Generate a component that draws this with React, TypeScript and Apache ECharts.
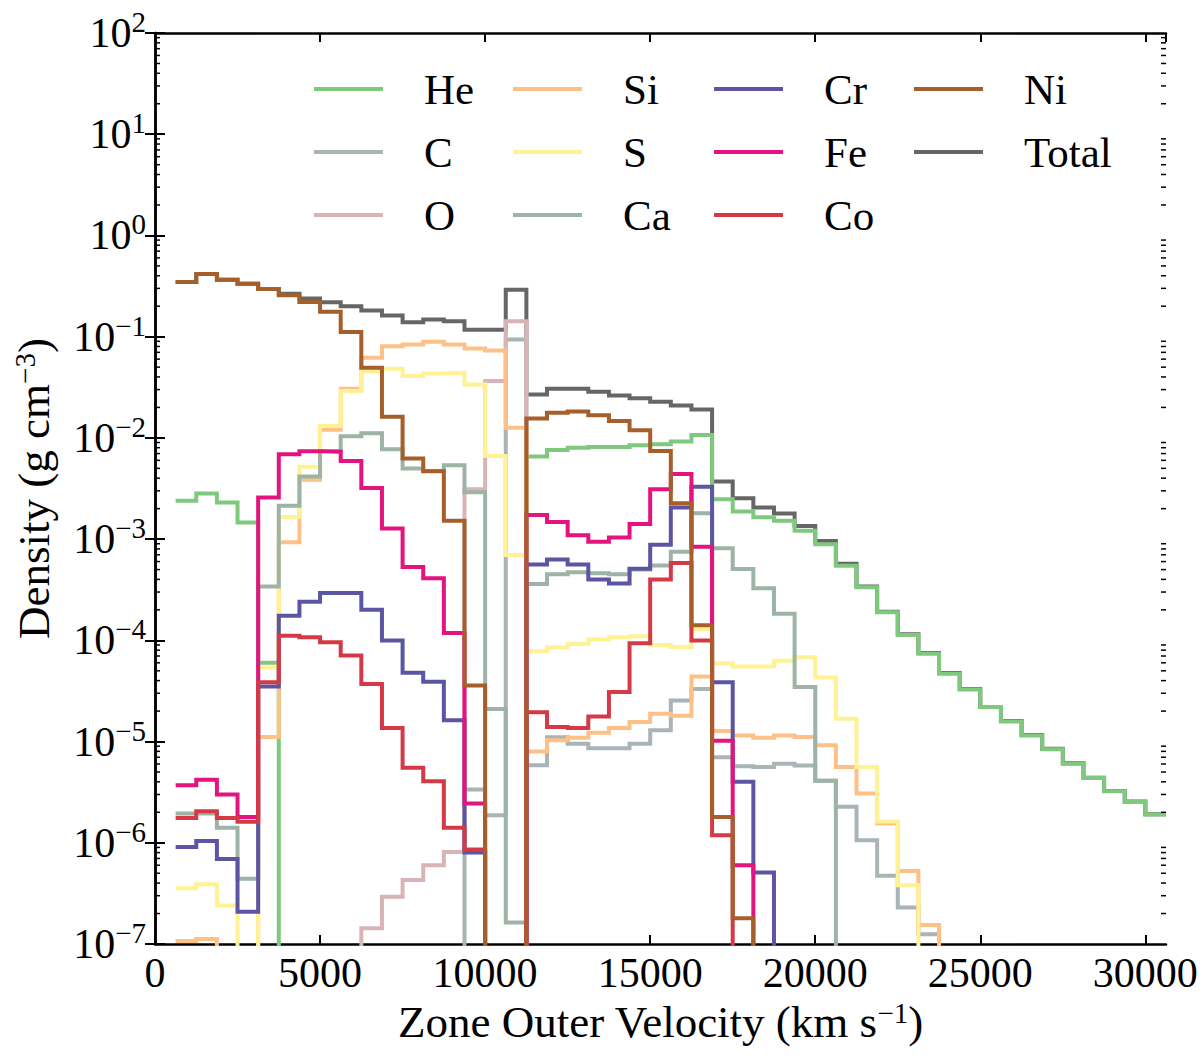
import { useEffect, useRef } from "react";
import * as echarts from "echarts";

// zone edges (km/s): inner edge of the first zone, then each zone's outer velocity
const ZONE_INNER = 625;
const ZONE_OUTER = [
  1250, 1875, 2500, 3125, 3750, 4375, 5000, 5625, 6250, 6875, 7500, 8125,
  8750, 9375, 10000, 10625, 11250, 11875, 12500, 13125, 13750, 14375, 15000,
  15625, 16250, 16875, 17500, 18125, 18750, 19375, 20000, 20625, 21250, 21875,
  22500, 23125, 23750, 24375, 25000, 25625, 26250, 26875, 27500, 28125, 28750,
  29375, 30000, 30625,
];

// densities (g cm^-3) per zone; 0 = below the plotted range
const HE = [
  2.39e-3, 2.82e-3, 2.3e-3, 1.46e-3, 6.0e-5, 0, 0, 0, 0, 0, 0, 0, 0, 0, 0, 0,
  0, 6.53e-3, 7.6e-3, 8.0e-3, 8.15e-3, 8.15e-3, 8.45e-3, 8.65e-3, 9.2e-3,
  1.07e-2, 2.48e-3, 1.87e-3, 1.64e-3, 1.52e-3, 1.21e-3, 8.9e-4, 5.46e-4,
  3.34e-4, 1.89e-4, 1.13e-4, 7.35e-5, 4.67e-5, 3.27e-5, 2.19e-5, 1.58e-5,
  1.15e-5, 8.4e-6, 6.05e-6, 4.37e-6, 3.23e-6, 2.54e-6, 1.9e-6,
];
const C = [
  0, 0, 0, 0, 0, 0, 0, 0, 0, 0, 0, 0, 0, 0, 3.36e-6, 1.87e-6, 0.094, 5.83e-6,
  1.1e-5, 9.5e-6, 8.6e-6, 8.6e-6, 9.5e-6, 1.29e-5, 2.55e-5, 3.3e-5, 7.0e-6,
  5.7e-6, 5.6e-6, 6.05e-6, 5.8e-6, 4.1e-6, 2.27e-6, 1.06e-6, 4.72e-7, 2.29e-7,
  1.25e-7, 0, 0, 0, 0, 0, 0, 0, 0, 0, 0, 0,
];
const O = [
  0, 0, 0, 0, 0, 0, 0, 0, 0, 1.43e-7, 2.93e-7, 4.3e-7, 6.0e-7, 8.1e-7, 3.1e-3,
  0.0364, 0.142, 0, 0, 0, 0, 0, 0, 0, 0, 0, 0, 0, 0, 0, 0, 0, 0, 0, 0, 0, 0, 0,
  0, 0, 0, 0, 0, 0, 0, 0, 0, 0,
];
const SI = [
  1.07e-7, 1.12e-7, 0, 0, 1.11e-5, 9.3e-4, 3.85e-3, 0.012, 0.0306, 0.0618,
  0.0805, 0.0838, 0.0889, 0.0836, 0.0763, 0.0729, 0.0126, 7.96e-6, 1.03e-5,
  1.09e-5, 1.22e-5, 1.36e-5, 1.56e-5, 1.88e-5, 1.8e-5, 4.4e-5, 1.27e-5,
  1.15e-5, 1.09e-5, 1.15e-5, 1.11e-5, 9.2e-6, 5.6e-6, 3.06e-6, 1.55e-6,
  5.25e-7, 1.54e-7, 0, 0, 0, 0, 0, 0, 0, 0, 0, 0, 0,
];
const S = [
  3.55e-7, 3.9e-7, 2.4e-7, 0, 5.4e-5, 1.65e-3, 5.2e-3, 0.0131, 0.029, 0.0457,
  0.0482, 0.0408, 0.0433, 0.044, 0.0337, 6.63e-3, 6.95e-4, 7.8e-5, 8.5e-5,
  9.2e-5, 1.02e-4, 1.07e-4, 1.1e-4, 9.0e-5, 8.6e-5, 1.29e-4, 5.9e-5, 5.5e-5,
  5.5e-5, 6.3e-5, 6.8e-5, 4.3e-5, 1.68e-5, 5.6e-6, 1.62e-6, 3.8e-7, 0, 0, 0,
  0, 0, 0, 0, 0, 0, 0, 0, 0,
];
const CA = [
  1.95e-6, 1.95e-6, 1.41e-6, 4.4e-7, 3.4e-4, 2.13e-3, 4.15e-3, 7.4e-3, 0.0104,
  0.0111, 7.71e-3, 4.98e-3, 4.7e-3, 5.37e-3, 2.9e-3, 2.1e-5, 1.63e-7, 3.6e-4,
  4.5e-4, 4.7e-4, 4.6e-4, 4.5e-4, 5.0e-4, 5.5e-4, 7.5e-4, 1.8e-3, 8.1e-4,
  5.06e-4, 3.27e-4, 1.83e-4, 3.45e-5, 4.1e-6, 0, 0, 0, 0, 0, 0, 0, 0, 0, 0, 0,
  0, 0, 0, 0, 0,
];
const CR = [
  9.1e-7, 1.04e-6, 6.9e-7, 2.08e-7, 3.5e-5, 1.75e-4, 2.41e-4, 2.94e-4, 2.94e-4,
  2.0e-4, 9.95e-5, 4.78e-5, 3.9e-5, 1.62e-5, 8.0e-7, 0, 0, 5.6e-4, 6.3e-4,
  5.6e-4, 4.0e-4, 3.65e-4, 5.1e-4, 8.8e-4, 2.05e-3, 3.3e-3, 3.86e-5, 4.0e-6,
  5.1e-7, 0, 0, 0, 0, 0, 0, 0, 0, 0, 0, 0, 0, 0, 0, 0, 0, 0, 0, 0,
];
const FE = [
  3.7e-6, 4.2e-6, 3.0e-6, 1.8e-6, 2.58e-3, 6.9e-3, 7.4e-3, 7.3e-3, 5.9e-3,
  3.2e-3, 1.27e-3, 5.3e-4, 4.1e-4, 1.18e-4, 2.44e-6, 0, 0, 1.73e-3, 1.48e-3,
  1.09e-3, 9.4e-4, 1.04e-3, 1.41e-3, 3.1e-3, 4.4e-3, 8.4e-4, 1.02e-5, 6.0e-7,
  0, 0, 0, 0, 0, 0, 0, 0, 0, 0, 0, 0, 0, 0, 0, 0, 0, 0, 0, 0,
];
const CO = [
  1.76e-6, 2.05e-6, 1.76e-6, 1.61e-6, 3.86e-5, 1.11e-4, 1.07e-4, 9.6e-5,
  7.1e-5, 3.7e-5, 1.36e-5, 5.5e-6, 4.05e-6, 1.41e-6, 8.6e-7, 0, 0, 1.95e-5,
  1.39e-5, 1.36e-5, 1.77e-5, 3.08e-5, 9.35e-5, 4.0e-4, 5.8e-4, 9.95e-5,
  1.19e-6, 0, 0, 0, 0, 0, 0, 0, 0, 0, 0, 0, 0, 0, 0, 0, 0, 0, 0, 0, 0, 0,
];
const NI = [
  0.347, 0.416, 0.366, 0.334, 0.296, 0.256, 0.22, 0.176, 0.111, 0.0492, 0.0162,
  6.24e-3, 4.68e-3, 1.52e-3, 3.58e-5, 0, 0, 0.0155, 0.0177, 0.0182, 0.0167,
  0.0147, 0.0119, 7.43e-3, 2.26e-3, 1.41e-4, 1.8e-6, 1.8e-7, 0, 0, 0, 0, 0, 0,
  0, 0, 0, 0, 0, 0, 0, 0, 0, 0, 0, 0, 0, 0,
];
const TOTAL = [
  0.347, 0.416, 0.366, 0.334, 0.296, 0.266, 0.238, 0.219, 0.2, 0.181, 0.162,
  0.139, 0.148, 0.142, 0.117, 0.117, 0.29, 0.0269, 0.0306, 0.0306, 0.0286,
  0.0263, 0.0246, 0.0228, 0.0209, 0.0191, 3.71e-3, 2.54e-3, 2.05e-3, 1.79e-3,
  1.35e-3, 9.6e-4, 5.7e-4, 3.4e-4, 1.92e-4, 1.15e-4, 7.5e-5, 4.75e-5, 3.3e-5,
  2.2e-5, 1.6e-5, 1.16e-5, 8.5e-6, 6.1e-6, 4.4e-6, 3.25e-6, 2.56e-6, 1.91e-6,
];

const SPECIES = [
  { name: "He", data: HE, color: "#7fc97f" },
  { name: "C", data: C, color: "#a8b4b6" },
  { name: "O", data: O, color: "#d8b4b7" },
  { name: "Si", data: SI, color: "#fdc086" },
  { name: "S", data: S, color: "#fff194" },
  { name: "Ca", data: CA, color: "#9db3a5" },
  { name: "Cr", data: CR, color: "#5b55a4" },
  { name: "Fe", data: FE, color: "#e3137f" },
  { name: "Co", data: CO, color: "#d33a45" },
  { name: "Ni", data: NI, color: "#a65f2b" },
];
const TOTAL_COLOR = "#666666";

const LEGEND_COLUMNS = [
  ["He", "C", "O"],
  ["Si", "S", "Ca"],
  ["Cr", "Fe", "Co"],
  ["Ni", "Total"],
];
const LEGEND_LEFT = [314, 513, 714, 914];

const Y_MIN = 1e-7;
const Y_MAX = 1e2;
const X_MAX = 30625;
const DECADES = [-7, -6, -5, -4, -3, -2, -1, 0, 1];
const MINOR_STEPS = [2, 3, 4, 5, 6, 7, 8, 9];

const FONT = "'Liberation Serif', 'Times New Roman', serif";
const OFF_SCALE = 1e-10;

function stepPoints(values: number[]) {
  const edges = [ZONE_INNER, ...ZONE_OUTER];
  const pts = values.map((v, i) => [edges[i], v > 0 ? v : OFF_SCALE]);
  const last = values[values.length - 1];
  pts.push([ZONE_OUTER[ZONE_OUTER.length - 1], last > 0 ? last : OFF_SCALE]);
  return pts;
}

function supLabel(v: number) {
  const e = Math.round(Math.log10(v));
  const s = e < 0 ? "\u2212" + -e : String(e);
  return `{b|10}{s|${s}}`;
}

export default function App() {
  const ref = useRef<HTMLDivElement>(null);

  useEffect(() => {
    if (!ref.current) return;
    const chart = echarts.init(ref.current, null, { renderer: "svg" });

    const minorTicks: number[][] = [];
    DECADES.forEach((d) =>
      MINOR_STEPS.forEach((m) => minorTicks.push([0, m * Math.pow(10, d)]))
    );

    const lineSeries = (name: string, data: number[], color: string) => ({
      name,
      type: "line",
      step: "end",
      data: stepPoints(data),
      showSymbol: false,
      symbol: "none",
      lineStyle: { color, width: 4, join: "miter", cap: "butt" },
      itemStyle: { color },
      emphasis: { disabled: true },
      clip: true,
    });

    const legends = LEGEND_COLUMNS.map((col, i) => ({
      data: col,
      orient: "vertical",
      left: LEGEND_LEFT[i],
      top: 67,
      padding: 0,
      itemGap: 19,
      itemWidth: 69,
      itemHeight: 4,
      icon: "rect",
      selectedMode: false,
      textStyle: {
        fontFamily: FONT,
        fontSize: 43,
        lineHeight: 44,
        color: "#000",
        padding: [0, 0, 0, 36],
      },
    }));

    const tickStyle = { lineStyle: { color: "#000", width: 2 } };
    const supRich = {
      t: { fontFamily: FONT, fontSize: 45, color: "#000" },
      s: {
        fontFamily: FONT,
        fontSize: 29,
        color: "#000",
        padding: [0, 0, 18, 0],
      },
    };

    chart.setOption({
      animation: false,
      backgroundColor: "#fff",
      textStyle: { fontFamily: FONT },
      grid: {
        left: 155,
        right: 34,
        top: 33,
        bottom: 113,
        containLabel: false,
        outerBoundsMode: "none",
      },
      legend: legends,
      xAxis: [
        {
          type: "value",
          min: 0,
          max: X_MAX,
          interval: 5000,
          position: "bottom",
          name: "{t|Zone Outer Velocity (km s}{s|\u22121}{t|)}",
          nameLocation: "middle",
          nameGap: 54,
          nameTextStyle: { rich: supRich },
          axisLine: { lineStyle: { color: "#000", width: 2.5 } },
          axisTick: { inside: true, length: 9, ...tickStyle },
          axisLabel: {
            fontFamily: FONT,
            fontSize: 42,
            color: "#000",
            margin: 8,
            showMaxLabel: false,
            formatter: (v: number) => (v % 5000 === 0 ? String(v) : ""),
          },
          splitLine: { show: false },
        },
        {
          type: "value",
          min: 0,
          max: X_MAX,
          interval: 5000,
          position: "top",
          axisLine: { lineStyle: { color: "#000", width: 2.5 } },
          axisTick: { inside: true, length: 9, ...tickStyle },
          axisLabel: { show: false },
          splitLine: { show: false },
        },
      ],
      yAxis: [
        {
          type: "log",
          logBase: 10,
          min: Y_MIN,
          max: Y_MAX,
          splitNumber: 9,
          position: "left",
          name: "{t|Density (g cm}{s|\u22123}{t|)}",
          nameLocation: "middle",
          nameGap: 98,
          nameTextStyle: { rich: supRich },
          axisLine: { lineStyle: { color: "#000", width: 2.5 } },
          axisTick: { inside: true, length: 10, ...tickStyle },
          axisLabel: {
            margin: 9,
            formatter: supLabel,
            rich: {
              b: { fontFamily: FONT, fontSize: 42, color: "#000" },
              s: {
                fontFamily: FONT,
                fontSize: 29,
                color: "#000",
                padding: [0, 0, 22, 0],
              },
            },
          },
          splitLine: { show: false },
          minorTick: { show: false },
        },
        {
          type: "log",
          logBase: 10,
          min: Y_MIN,
          max: Y_MAX,
          splitNumber: 9,
          position: "right",
          axisLine: { lineStyle: { color: "#000", width: 2.5 } },
          axisTick: { inside: true, length: 10, ...tickStyle },
          axisLabel: { show: false },
          splitLine: { show: false },
        },
      ],
      series: [
        lineSeries("Total", TOTAL, TOTAL_COLOR),
        ...SPECIES.map((s) => lineSeries(s.name, s.data, s.color)),
        {
          type: "custom",
          name: "minor",
          silent: true,
          z: 10,
          data: minorTicks,
          encode: { x: 0, y: 1 },
          renderItem: (params: any, api: any) => {
            const cs = params.coordSys;
            const y = api.coord([0, api.value(1)])[1];
            const style = { stroke: "#000", lineWidth: 1.5 };
            return {
              type: "group",
              children: [
                {
                  type: "line",
                  shape: { x1: cs.x, y1: y, x2: cs.x + 5, y2: y },
                  style,
                },
                {
                  type: "line",
                  shape: {
                    x1: cs.x + cs.width,
                    y1: y,
                    x2: cs.x + cs.width - 5,
                    y2: y,
                  },
                  style,
                },
              ],
            };
          },
        },
      ],
    });

    return () => chart.dispose();
  }, []);

  return (
    <div
      ref={ref}
      style={{
        position: "fixed",
        left: 0,
        top: 0,
        width: 1200,
        height: 1057,
        background: "#fff",
      }}
    />
  );
}
